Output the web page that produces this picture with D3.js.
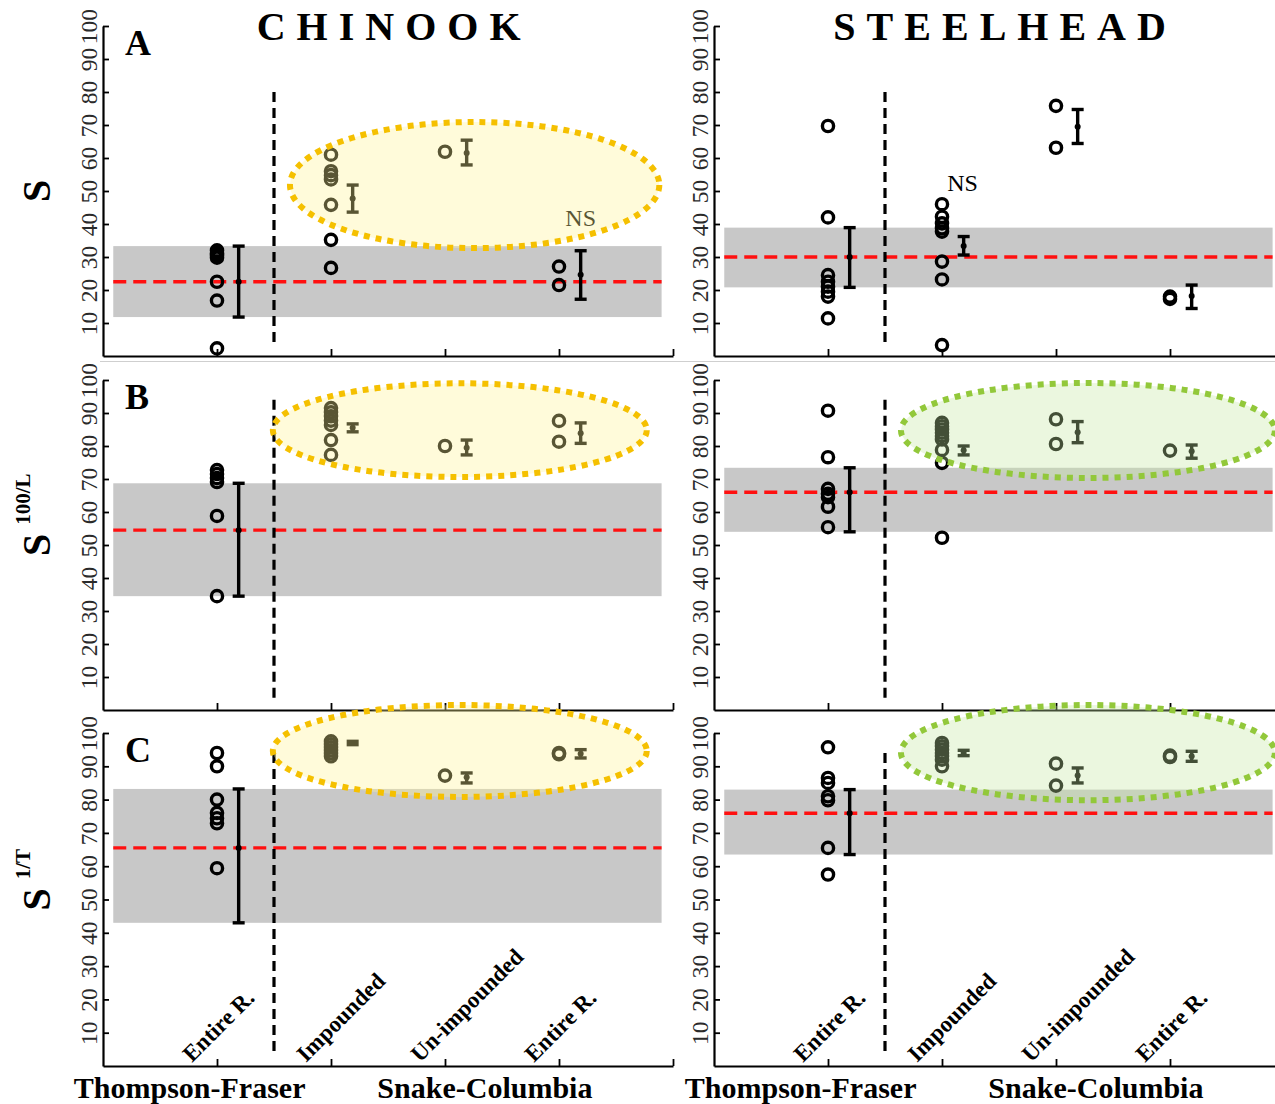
<!DOCTYPE html>
<html>
<head>
<meta charset="utf-8">
<script src="https://cdn.jsdelivr.net/npm/d3@7"></script>
<style>
  html, body { margin: 0; padding: 0; background: #fff; }
  svg { display: block; }
</style>
</head>
<body>
<svg id="fig" width="1275" height="1104"></svg>
<script>
// ---- categories and labels ----
const categories = ["Entire R.", "Impounded", "Un-impounded", "Entire R."];
const categoryPos = [1, 2, 3, 4];
const groups = ["Thompson-Fraser", "Snake-Columbia"];
const groupPos = [0.76, 3.35];
const species = ["CHINOOK", "STEELHEAD"];
const panelLetters = ["A", "B", "C"];
const metricBase = ["S", "S", "S"];
const metricSup = ["", "100/L", "1/T"];
const yTicks = [10, 20, 30, 40, 50, 60, 70, 80, 90, 100];
const xTicks = [1, 2, 3, 4, 5];

// ---- observed values (%), one list per category ----
const chinookS_obs = [[32, 31.2, 30.5, 29.8, 22.5, 16.8, 2.3], [61, 56, 54.8, 53.5, 45.8, 35.2, 26.7], [61.9], [27.1, 21.5]];
const chinookL_obs = [[72.7, 71.5, 70.3, 69.1, 58.8, 34.5], [91.5, 90.2, 89, 87.7, 86.4, 81.8, 77.3], [80], [87.6, 81.3]];
const chinookT_obs = [[94, 90, 80, 76, 74.4, 72.9, 59.4], [97.5, 96.6, 95.7, 94.8, 93.9, 93], [87.2], [94, 93.6]];
const steelS_obs = [[69.7, 42, 24.5, 22.5, 21, 19.5, 18, 11.4], [46, 42.2, 40.2, 38.7, 37.7, 28.6, 23.2, 3.3], [75.8, 63.1], [18, 17.3]];
const steelL_obs = [[90.7, 76.6, 67, 65.5, 64.5, 61.6, 55.4], [87, 86, 85, 84, 83, 82, 78.8, 74.9, 52.2], [88.1, 80.6], [78.6]];
const steelT_obs = [[95.7, 86.5, 85, 81, 79.8, 65.5, 57.5], [97, 96, 95, 94, 93, 92, 90], [90.8, 84.2], [93.2, 92.8]];

// ---- mean with 95% interval [low, mean, high], one per category ----
const chinookS_ci = [[11.8, 22.5, 33.3], [43.6, 47.7, 51.8], [57.9, 61.5, 65.4], [17.2, 24.6, 31.9]];
const chinookL_ci = [[34.5, 54.5, 68.7], [84.3, 85.5, 86.7], [77.3, 79.5, 81.8], [80.8, 83.9, 87]];
const chinookT_ci = [[43, 65.5, 83.2], [96.5, 97, 97.5], [85, 86.7, 88], [92.5, 93.8, 95]];
const steelS_ci = [[20.8, 30, 38.9], [30.6, 33.3, 36.2], [64.4, 69.5, 74.7], [14.4, 18.2, 21.5]];
const steelL_ci = [[54, 66, 73.4], [77.3, 78.7, 80], [81, 84.2, 87.4], [76.3, 78.4, 80.3]];
const steelT_ci = [[63.5, 75.9, 83], [93.2, 94, 94.8], [85, 87.2, 89.5], [91.5, 93, 94.5]];

// ---- annotations (data units) ----
// vertical divider between river systems: [from, to] in %
const dividerSpan = [[2.7, 80], [2.5, 94], [3.3, 94]];
// highlighted Snake-Columbia groups: [col, row, cx, cy, rx, ry]
const highlights = [
  [0, 0, 3.26, 51.8, 1.62, 19.1],
  [0, 1, 3.13, 84.8, 1.64, 14.2],
  [0, 2, 3.13, 94.6, 1.64, 13.8],
  [1, 1, 3.28, 84.7, 1.64, 14.4],
  [1, 2, 3.28, 94.1, 1.64, 14.3]
];
// non-significant differences: [col, row, pos, value]
const nsMarks = [[0, 0, 4.19, 42], [1, 0, 2.18, 52.4]];

const obsTable = [[chinookS_obs, chinookL_obs, chinookT_obs], [steelS_obs, steelL_obs, steelT_obs]];
const ciTable = [[chinookS_ci, chinookL_ci, chinookT_ci], [steelS_ci, steelL_ci, steelT_ci]];

// ---- layout ----
const colLeft = [103, 714];
const colWidth = 570;
const rows = [{ top: 26, bottom: 356 }, { top: 380, bottom: 710 }, { top: 733, bottom: 1066 }];
const overlayStyle = [
  { fill: "rgb(255,244,150)", opacity: 0.35, stroke: "#f5c000" },
  { fill: "rgb(196,232,160)", opacity: 0.34, stroke: "#92c83a" }
];
const serif = "'Liberation Serif', 'Times New Roman', serif";

const svg = d3.select("#fig");
svg.append("rect").attr("width", 1275).attr("height", 1104).attr("fill", "#fff");

const defs = svg.append("defs");

species.forEach((sp, c) => {
  const x = d3.scaleLinear().domain([0, 5]).range([colLeft[c], colLeft[c] + colWidth]);

  rows.forEach((r, ri) => {
    const y = d3.scaleLinear().domain([0, 100]).range([r.bottom, r.top]);
    const g = svg.append("g");
    const obs = obsTable[c][ri];
    const ci = ciTable[c][ri];
    const ref = ci[0];

    // reference band (Thompson-Fraser interval) and its mean
    g.append("rect")
      .attr("x", x(0.09)).attr("width", x(4.9) - x(0.09))
      .attr("y", y(ref[2])).attr("height", y(ref[0]) - y(ref[2]))
      .attr("fill", "#c8c8c8");
    g.append("line")
      .attr("x1", x(0.09)).attr("x2", x(4.9))
      .attr("y1", y(ref[1])).attr("y2", y(ref[1]))
      .attr("stroke", "#ff1010").attr("stroke-width", 3.4)
      .attr("stroke-dasharray", "13,7");

    // divider between river systems
    g.append("line")
      .attr("x1", x(1.5)).attr("x2", x(1.5))
      .attr("y1", y(dividerSpan[ri][1])).attr("y2", y(dividerSpan[ri][0]))
      .attr("stroke", "#000").attr("stroke-width", 3.2)
      .attr("stroke-dasharray", "10,6");

    // axes
    const yAxis = g.append("g").attr("transform", `translate(${x(0)},0)`)
      .call(d3.axisLeft(y).tickValues(yTicks).tickSize(-6).tickSizeOuter(0).tickFormat(d3.format("d")));
    yAxis.select(".domain").attr("stroke-width", 2.2);
    yAxis.selectAll(".tick line").attr("stroke-width", 1.8);
    yAxis.selectAll(".tick text")
      .attr("x", null).attr("dy", null)
      .attr("transform", "translate(-6,0) rotate(-90)")
      .attr("text-anchor", "middle")
      .attr("font-family", serif).attr("font-size", 23.5).attr("fill", "#2a2a2a");

    const xAxis = g.append("g").attr("transform", `translate(0,${y(0)})`)
      .call(d3.axisBottom(x).tickValues(xTicks).tickSize(-7).tickSizeOuter(0).tickFormat(""));
    xAxis.select(".domain").attr("stroke-width", 2.2);
    xAxis.selectAll(".tick line").attr("stroke-width", 1.8);

    // partially hidden zero label under the upper panels
    if (ri < 2) {
      const clipId = `clip${c}${ri}`;
      defs.append("clipPath").attr("id", clipId)
        .append("rect").attr("x", x(0) - 40).attr("y", y(0)).attr("width", 40).attr("height", 11);
      g.append("text")
        .attr("clip-path", `url(#${clipId})`)
        .attr("transform", `translate(${x(0) - 6},${y(0) + 15}) rotate(-90)`)
        .attr("text-anchor", "middle")
        .attr("font-family", serif).attr("font-size", 23.5).attr("fill", "#2a2a2a")
        .text("0");
    }

    // individual observations
    obs.forEach((vals, k) => {
      g.selectAll(null).data(vals).join("circle")
        .attr("cx", x(categoryPos[k])).attr("cy", d => y(d)).attr("r", 5.6)
        .attr("fill", "none").attr("stroke", "#000").attr("stroke-width", 3.4);
    });

    // mean and interval bars
    const bars = g.selectAll(null).data(ci).join("g")
      .attr("transform", (d, k) => `translate(${x(categoryPos[k] + 0.19)},0)`);
    bars.append("line").attr("y1", d => y(d[0])).attr("y2", d => y(d[2]))
      .attr("stroke", "#000").attr("stroke-width", 3.4);
    bars.append("line").attr("x1", -6).attr("x2", 6).attr("y1", d => y(d[0])).attr("y2", d => y(d[0]))
      .attr("stroke", "#000").attr("stroke-width", 3.4);
    bars.append("line").attr("x1", -6).attr("x2", 6).attr("y1", d => y(d[2])).attr("y2", d => y(d[2]))
      .attr("stroke", "#000").attr("stroke-width", 3.4);
    bars.append("circle").attr("cy", d => y(d[1])).attr("r", 3).attr("fill", "#000");

    // NS marks
    nsMarks.filter(m => m[0] === c && m[1] === ri).forEach(m => {
      g.append("text")
        .attr("x", x(m[2])).attr("y", y(m[3])).attr("dy", "0.35em")
        .attr("text-anchor", "middle")
        .attr("font-family", serif).attr("font-size", 24).attr("fill", "#000")
        .text("NS");
    });

    // translucent highlight over the Snake-Columbia group
    highlights.filter(h => h[0] === c && h[1] === ri).forEach(h => {
      const st = overlayStyle[c];
      const ex = x(h[2]), ey = y(h[3]);
      const erx = x(h[2] + h[4]) - ex, ery = y(h[3] - h[5]) - ey;
      g.append("ellipse").attr("cx", ex).attr("cy", ey).attr("rx", erx).attr("ry", ery)
        .attr("fill", st.fill).attr("fill-opacity", st.opacity);
      g.append("ellipse").attr("cx", ex).attr("cy", ey).attr("rx", erx).attr("ry", ery)
        .attr("fill", "none").attr("stroke", st.stroke).attr("stroke-width", 6)
        .attr("stroke-dasharray", "6,6");
    });

    // panel letter
    if (c === 0) {
      g.append("text").attr("x", x(0) + 22).attr("y", r.top + 29)
        .attr("font-family", serif).attr("font-weight", "bold").attr("font-size", 36)
        .text(panelLetters[ri]);

      // metric label on the left
      const mid = (r.top + r.bottom) / 2;
      const t = g.append("text")
        .attr("transform", `translate(50,${mid + 11}) rotate(-90)`)
        .attr("font-family", serif).attr("font-weight", "bold");
      t.append("tspan").attr("font-size", 40).text(metricBase[ri]);
      if (metricSup[ri]) {
        t.append("tspan").attr("font-size", 21).attr("dx", 9).attr("dy", -20).text(metricSup[ri]);
      }
    }

    // category labels and river-system names on the bottom row
    if (ri === 2) {
      g.selectAll(null).data(categories).join("text")
        .attr("transform", (d, k) => `translate(${x(categoryPos[k]) - 25},${y(0) - 3}) rotate(-45)`)
        .attr("font-family", serif).attr("font-weight", "bold").attr("font-size", 23)
        .text(d => d);
      g.selectAll(null).data(groups).join("text")
        .attr("x", (d, k) => x(groupPos[k])).attr("y", 1098)
        .attr("text-anchor", "middle")
        .attr("font-family", serif).attr("font-weight", "bold").attr("font-size", 30)
        .text(d => d);
    }
  });

  // species title
  svg.append("text")
    .attr("x", x(2.51) + 5).attr("y", 40)
    .attr("text-anchor", "middle")
    .attr("font-family", serif).attr("font-weight", "bold").attr("font-size", 40)
    .attr("letter-spacing", 11)
    .text(sp);
});

// thin seam between the first two rows
svg.append("line").attr("x1", 100).attr("x2", 1275).attr("y1", 361.5).attr("y2", 361.5)
  .attr("stroke", "#cfcfcf").attr("stroke-width", 1);
</script>
</body>
</html>
